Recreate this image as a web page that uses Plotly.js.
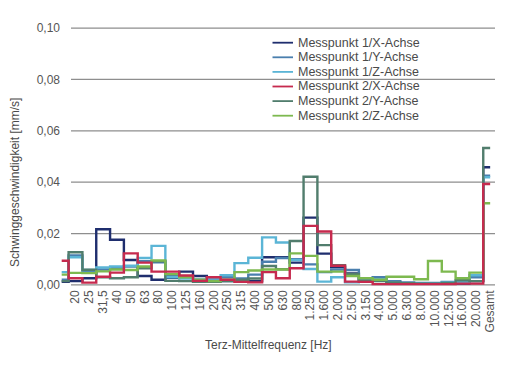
<!DOCTYPE html>
<html>
<head>
<meta charset="utf-8">
<script src="https://cdn.plot.ly/plotly-3.0.1.min.js"></script>
<style>html,body{margin:0;padding:0;background:#fff}#chart{width:506px;height:368px}</style>
</head>
<body>
<div id="chart"></div>
<script>
// Terzband labels (first band is drawn but unlabeled)
const bandLabels = ['', '20', '25', '31,5', '40', '50', '63', '80', '100', '125', '160', '200', '250', '315', '400', '500', '630', '800', '1.250', '1.600', '2.000', '2.500', '3.150', '4.000', '5.000', '6.300', '8.000', '10.000', '12.500', '16.000', '20.000', 'Gesamt'];

const seriesNames = ['Messpunkt 1/X-Achse', 'Messpunkt 1/Y-Achse', 'Messpunkt 1/Z-Achse', 'Messpunkt 2/X-Achse', 'Messpunkt 2/Y-Achse', 'Messpunkt 2/Z-Achse'];

const mp1X = [0.0012, 0.0015, 0.0026, 0.0217, 0.0176, 0.0097, 0.0035, 0.0020, 0.0028, 0.0052, 0.0035, 0.0020, 0.0015, 0.0020, 0.0015, 0.0108, 0.0108, 0.0087, 0.0262, 0.0122, 0.0070, 0.0045, 0.0015, 0.0025, 0.0010, 0.0007, 0.0005, 0.0005, 0.0005, 0.0005, 0.0015, 0.0458];
const mp1Y = [0.0020, 0.0115, 0.0050, 0.0060, 0.0065, 0.0072, 0.0092, 0.0088, 0.0038, 0.0030, 0.0020, 0.0020, 0.0030, 0.0025, 0.0040, 0.0090, 0.0105, 0.0100, 0.0080, 0.0050, 0.0060, 0.0058, 0.0020, 0.0030, 0.0015, 0.0010, 0.0008, 0.0008, 0.0012, 0.0012, 0.0030, 0.0425];
const mp1Z = [0.0050, 0.0108, 0.0058, 0.0068, 0.0072, 0.0075, 0.0105, 0.0152, 0.0030, 0.0025, 0.0020, 0.0025, 0.0038, 0.0085, 0.0106, 0.0185, 0.0165, 0.0097, 0.0062, 0.0013, 0.0030, 0.0010, 0.0015, 0.0022, 0.0010, 0.0006, 0.0005, 0.0005, 0.0010, 0.0012, 0.0038, 0.0419];
const mp2X = [0.0094, 0.0026, 0.0009, 0.0032, 0.0048, 0.0123, 0.0087, 0.0052, 0.0052, 0.0037, 0.0016, 0.0030, 0.0020, 0.0012, 0.0010, 0.0050, 0.0026, 0.0065, 0.0230, 0.0208, 0.0075, 0.0013, 0.0012, 0.0003, 0.0003, 0.0003, 0.0003, 0.0003, 0.0003, 0.0005, 0.0005, 0.0393];
const mp2Y = [0.0015, 0.0127, 0.0059, 0.0030, 0.0026, 0.0030, 0.0065, 0.0092, 0.0016, 0.0015, 0.0012, 0.0012, 0.0015, 0.0020, 0.0025, 0.0074, 0.0061, 0.0171, 0.0421, 0.0155, 0.0077, 0.0043, 0.0015, 0.0015, 0.0010, 0.0007, 0.0005, 0.0005, 0.0008, 0.0018, 0.0015, 0.0533];
const mp2Z = [0.0040, 0.0047, 0.0046, 0.0053, 0.0060, 0.0058, 0.0072, 0.0095, 0.0042, 0.0030, 0.0020, 0.0015, 0.0020, 0.0050, 0.0056, 0.0060, 0.0060, 0.0123, 0.0113, 0.0052, 0.0052, 0.0035, 0.0026, 0.0020, 0.0032, 0.0032, 0.0022, 0.0093, 0.0052, 0.0026, 0.0048, 0.0318];

const yTickVals = [0, 0.02, 0.04, 0.06, 0.08, 0.10];

const seriesValues = [mp1X, mp1Y, mp1Z, mp2X, mp2Y, mp2Z];
const seriesColors = ['#1f2e6e', '#4a7fae', '#5bb5d6', '#c62a4e', '#517d6d', '#7db94f'];
const drawOrder = [0, 1, 2, 4, 5, 3];

// layout geometry
const W = 506, H = 368;
const M = {l: 61, r: 11, t: 26, b: 81};
const pw = W - M.l - M.r, ph = H - M.t - M.b;
const px2paperX = p => (p - M.l) / pw;
const px2paperY = p => (H - M.b - p) / ph;

const xIdx = bandLabels.map((_, i) => i - 1);

const traces = drawOrder.map(k => ({
  type: 'scatter', mode: 'lines',
  x: xIdx, y: seriesValues[k], name: seriesNames[k],
  line: {shape: 'hvh', color: seriesColors[k], width: 2.4},
  showlegend: false, hoverinfo: 'x+y+name'
}));

const shapes = [];
const annotations = [];
const gridColor = '#8e8e8e';
yTickVals.forEach(v => {
  shapes.push({type: 'line', xref: 'paper', yref: 'y', x0: px2paperX(71), x1: 1, y0: v, y1: v,
    line: {color: gridColor, width: 1.3}, layer: 'below'});
});

// legend (manual, compact spacing like the reference)
seriesNames.forEach((n, k) => {
  const py = 42.7 + 14.6 * k;
  shapes.push({type: 'line', xref: 'paper', yref: 'paper', x0: px2paperX(272.5), x1: px2paperX(293), y0: px2paperY(py), y1: px2paperY(py),
    line: {color: seriesColors[k], width: 1.8}});
  annotations.push({xref: 'paper', yref: 'paper', x: px2paperX(296), y: px2paperY(py), xanchor: 'left', yanchor: 'middle',
    text: n, showarrow: false, font: {family: 'Liberation Sans, Arial, sans-serif', size: 12.5, color: '#4a4a4a'}});
});

annotations.push({xref: 'paper', yref: 'paper', x: px2paperX(268), y: px2paperY(345), xanchor: 'center', yanchor: 'middle',
  text: 'Terz-Mittelfrequenz [Hz]', showarrow: false, font: {family: 'Liberation Sans, Arial, sans-serif', size: 12, color: '#4a4a4a'}});
annotations.push({xref: 'paper', yref: 'paper', x: px2paperX(15), y: px2paperY(183), xanchor: 'center', yanchor: 'middle', textangle: -90,
  text: 'Schwinggeschwindigkeit [mm/s]', showarrow: false, font: {family: 'Liberation Sans, Arial, sans-serif', size: 12, color: '#4a4a4a'}});

const layout = {
  width: W, height: H,
  margin: M,
  paper_bgcolor: '#ffffff', plot_bgcolor: 'rgba(0,0,0,0)',
  separators: ',.',
  font: {family: 'Liberation Sans, Arial, sans-serif', size: 12, color: '#555555'},
  showlegend: false,
  xaxis: {
    range: [-1.05, 30.35], tickmode: 'array', tickvals: xIdx.slice(1), ticktext: bandLabels.slice(1),
    tickangle: -90, showgrid: false, zeroline: false, showline: false, ticks: '',
    tickfont: {size: 12, color: '#555555'}, fixedrange: true
  },
  yaxis: {
    range: [-0.0008, 0.1008], tickmode: 'array', tickvals: yTickVals, tickformat: '.2f',
    showgrid: false, zeroline: false, showline: false, ticks: '',
    tickfont: {size: 12, color: '#555555'}, fixedrange: true
  },
  shapes: shapes,
  annotations: annotations
};

Plotly.newPlot('chart', traces, layout, {staticPlot: true, displayModeBar: false});
</script>
</body>
</html>
